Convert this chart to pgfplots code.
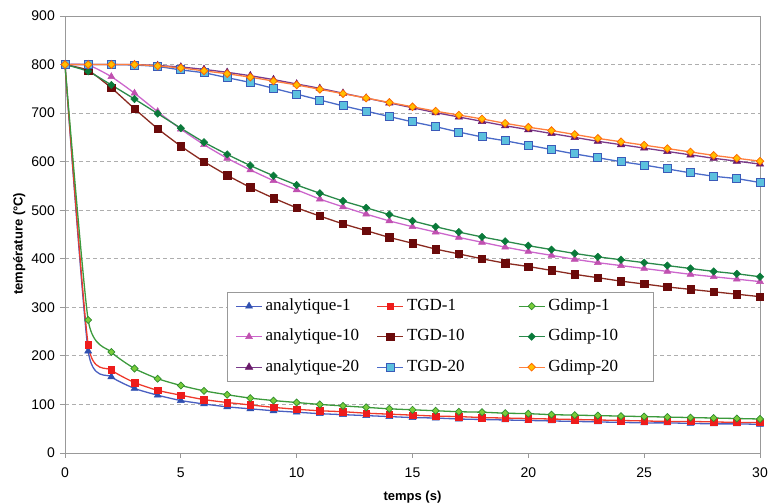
\documentclass[border=0pt]{standalone}
\usepackage{pgfplots}
\usepackage{pgfplotstable}
\pgfplotsset{compat=1.18}
\usepackage{fontspec}
\setmainfont{Liberation Sans}
\newfontfamily\legfont{Liberation Serif}

\definecolor{aonel}{HTML}{4A5FC1}\definecolor{aonem}{HTML}{2F4FB0}
\definecolor{tonel}{HTML}{EE3A2C}\definecolor{tonem}{HTML}{EE1C1C}
\definecolor{gonel}{HTML}{3C9A3C}\definecolor{gonem}{HTML}{7ACC3A}\definecolor{goneb}{HTML}{2E8B2E}
\definecolor{atenl}{HTML}{CC66CC}\definecolor{atenm}{HTML}{C050B0}
\definecolor{ttenl}{HTML}{8A2A20}\definecolor{ttenm}{HTML}{6B0A0A}
\definecolor{gtenl}{HTML}{2A8A4A}\definecolor{gtenm}{HTML}{0A7A3A}
\definecolor{atwl}{HTML}{7A3A8A}\definecolor{atwm}{HTML}{6A1A6A}
\definecolor{ttwl}{HTML}{4A6AC8}\definecolor{ttwm}{HTML}{5BC0DE}\definecolor{ttwb}{HTML}{3A5AB8}
\definecolor{gtwl}{HTML}{FF7F3F}\definecolor{gtwm}{HTML}{FFC000}\definecolor{gtwb}{HTML}{FF6A00}
\definecolor{framec}{HTML}{999999}
\definecolor{gridc}{HTML}{AEAEAE}

\pgfplotstableread{
t  a1  t1  g1  a10 t10 g10 a20 t20 g20
0 800 800 800 800 800 800 800 800 800
1 210 223 274 799 788 786 800 800 800
2 157 171 208 775 752 758 800 800 800
3 133 145 174 741 709 729 800 799 800
4 119 129 153 703 668 699 798 796 797
5 108 119 139 667 632 669 795 789 793
6 101 110 128 635 600 640 790 783 787
7 95 104 120 607 572 615 784 773 781
8 91 99 113 583 547 592 777 763 774
9 87 94 108 561 525 571 769 751 766
10 84 90 104 542 505 552 760 739 758
11 81 87 100 523 488 535 751 727 749
12 79 85 97 507 472 519 741 715 740
13 77 82 94 492 458 505 731 704 731
14 75 80 91 478 444 491 721 693 722
15 73 78 89 466 432 478 711 682 713
16 72 76 87 455 420 466 701 672 704
17 70 75 85 444 410 455 692 661 696
18 69 73 84 434 400 445 683 651 688
19 68 72 82 424 391 436 674 643 679
20 67 71 81 415 384 427 666 634 671
21 66 70 79 407 376 419 658 625 664
22 65 69 78 399 368 411 650 616 656
23 64 68 77 392 361 404 642 608 648
24 63 67 76 386 354 398 635 600 641
25 62 66 75 380 348 392 628 593 634
26 62 65 74 374 342 386 621 585 627
27 61 65 73 368 337 380 614 577 620
28 60 64 72 363 332 374 607 570 613
29 60 63 71 358 327 369 601 565 607
30 59 63 70 353 322 363 595 557 601
}\data

\begin{document}
\begin{tikzpicture}
\begin{axis}[
  scale only axis, width=695pt, height=437pt,
  xmin=0, xmax=30, ymin=0, ymax=900,
  xtick={0,5,...,30}, ytick={0,100,...,900},
  clip=false,
  axis line style={draw=framec, line width=0.8pt},
  tick style={draw=framec, line width=0.8pt},
  tick align=outside, major tick length=5pt,
  xtick pos=bottom, ytick pos=left,
  ymajorgrids, grid style={draw=gridc, line width=0.8pt, dash pattern=on 4pt off 3pt},
  /pgf/number format/assume math mode=true,
  tick label style={font=\fontsize{14}{16}\selectfont},
  yticklabel style={inner sep=0pt, anchor=east, xshift=-5pt},
  xticklabel style={inner sep=0pt, anchor=north, yshift=-10pt},
  xlabel={temps (s)}, ylabel={température (°C)},
  label style={font=\bfseries\fontsize{13}{15}\selectfont},
  xlabel style={at={(axis description cs:0.5,-0.1076)}, anchor=base},
  ylabel style={at={(axis description cs:-0.066,0.479)}, anchor=center},
  legend columns=3,
  legend cell align=left,
  legend image code/.code={\draw[#1, mark repeat=2, mark phase=2] plot coordinates {(0pt,0pt) (13pt,0pt) (26pt,0pt)};},
  legend style={at={(rel axis cs:0.2331,0.3684)}, anchor=north west,
     draw=framec, line width=0.8pt, fill=white, font=\legfont\fontsize{17}{20}\selectfont,
     inner xsep=8pt, inner ysep=5.5pt, column sep=0pt, row sep=14pt,
     nodes={inner xsep=3pt, inner ysep=0pt, text height=12.5pt, text depth=4pt}},
  every axis plot/.append style={line width=1.3pt, smooth, tension=0.35},
]
\addplot[color=aonel, mark=triangle*, mark size=4pt, mark options={fill=aonem, draw=aonem, line width=0.5pt}] table[x=t, y=a1] {\data};
\addlegendentry{\makebox[108pt][l]{analytique-1}}
\addplot[color=tonel, mark=square*, mark size=3.3pt, mark options={fill=tonem, draw=tonem, line width=0.5pt}] table[x=t, y=t1] {\data};
\addlegendentry{\makebox[108pt][l]{TGD-1}}
\addplot[color=gonel, mark=square*, mark size=2.5pt, mark options={rotate=45, fill=gonem, draw=goneb, line width=0.7pt}] table[x=t, y=g1] {\data};
\addlegendentry{\makebox[94pt][l]{Gdimp-1}}
\addplot[color=atenl, mark=triangle*, mark size=4pt, mark options={fill=atenm, draw=atenm, line width=0.5pt}] table[x=t, y=a10] {\data};
\addlegendentry{\makebox[108pt][l]{analytique-10}}
\addplot[color=ttenl, mark=square*, mark size=3.7pt, mark options={fill=ttenm, draw=ttenm, line width=0.5pt}] table[x=t, y=t10] {\data};
\addlegendentry{\makebox[108pt][l]{TGD-10}}
\addplot[color=gtenl, mark=square*, mark size=2.6pt, mark options={rotate=45, fill=gtenm, draw=gtenm, line width=0.5pt}] table[x=t, y=g10] {\data};
\addlegendentry{\makebox[94pt][l]{Gdimp-10}}
\addplot[color=atwl, mark=triangle*, mark size=4.3pt, mark options={fill=atwm, draw=atwm, line width=0.5pt}] table[x=t, y=a20] {\data};
\addlegendentry{\makebox[108pt][l]{analytique-20}}
\addplot[color=ttwl, mark=square*, mark size=4pt, mark options={fill=ttwm, draw=ttwb, line width=0.9pt}] table[x=t, y=t20] {\data};
\addlegendentry{\makebox[108pt][l]{TGD-20}}
\addplot[color=gtwl, mark=square*, mark size=2.7pt, mark options={rotate=45, fill=gtwm, draw=gtwb, line width=0.8pt}] table[x=t, y=g20] {\data};
\addlegendentry{\makebox[94pt][l]{Gdimp-20}}
\end{axis}
\pgfresetboundingbox
\path[use as bounding box] ([xshift=-65pt,yshift=-50pt]current axis.south west) rectangle ([xshift=8pt,yshift=16pt]current axis.north east);
\end{tikzpicture}
\end{document}
